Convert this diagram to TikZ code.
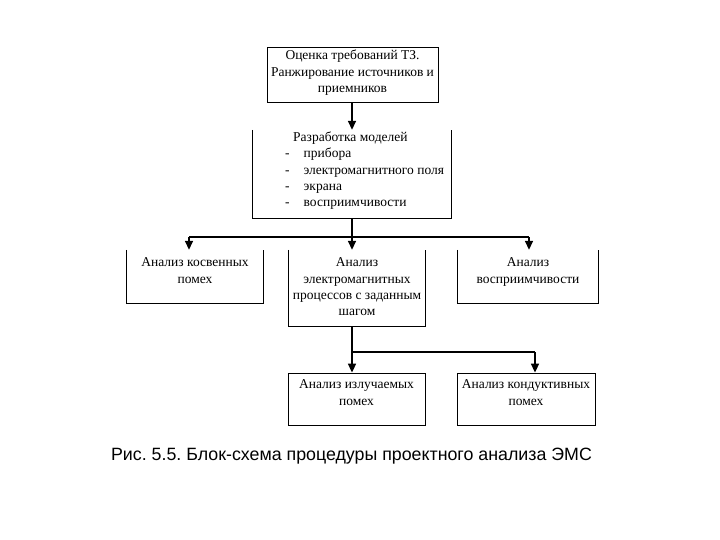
\documentclass[tikz,border=0pt]{standalone}
\usepackage{fontspec}
\setmainfont{Liberation Serif}
\newfontfamily\capfont{Liberation Sans}
\usetikzlibrary{arrows.meta,calc}
\frenchspacing
\tikzset{
  box/.style={draw, line width=0.8pt, inner sep=0pt},
  openbox/.style={inner sep=0pt},
  txt/.style={inner sep=0pt, align=center, font=\fontsize{13.5}{16.3}\selectfont},
  bus/.style={line width=1.6pt},
  arr/.style={line width=1.6pt, -{Triangle[length=9pt,width=8pt]}},
}
\begin{document}
\begin{tikzpicture}[x=1pt,y=-1pt]
\useasboundingbox (0,0) rectangle (720,540);
% boxes
\node[box, minimum width=171pt, minimum height=55pt] (t) at (352.5,74.5) {};
\node[openbox, minimum width=198pt, minimum height=88pt] (m) at (352,174) {};
\node[openbox, minimum width=136pt, minimum height=53pt] (a) at (195,276.5) {};
\node[openbox, minimum width=136pt, minimum height=76pt] (b) at (357,288) {};
\node[openbox, minimum width=140pt, minimum height=53pt] (c) at (528,276.5) {};
\node[box, minimum width=137pt, minimum height=52pt] (d) at (356.5,399) {};
\node[box, minimum width=138pt, minimum height=52pt] (e) at (526,399) {};
\foreach \n in {m,a,b,c}
  \draw[line width=0.8pt] (\n.north west) -- (\n.south west) -- (\n.south east) -- (\n.north east);
% texts
\node[txt, anchor=north] (tt) at ($(t.north)+(0,3.5)$) {Оценка требований ТЗ.\\Ранжирование источников и\\приемников};
\node[txt, anchor=north west, align=left] (mt) at (285,130) {%
  \begin{tabular}{@{}l@{\hspace{14pt}}l@{}}
  \multicolumn{2}{@{}l@{}}{\hspace{8pt}Разработка моделей}\\
  - & прибора\\
  - & электромагнитного поля\\
  - & экрана\\
  - & восприимчивости
  \end{tabular}};
\node[txt, anchor=north] (at) at ($(a.north)+(0,8)$) {Анализ косвенных\\помех};
\node[txt, anchor=north] (bt) at ($(b.north)+(0,8)$) {Анализ\\электромагнитных\\процессов с заданным\\шагом};
\node[txt, anchor=north] (ct) at ($(c.north)+(0,8)$) {Анализ\\восприимчивости};
\node[txt, anchor=north] (dt) at ($(d.north)+(0,7)$) {Анализ излучаемых\\помех};
\node[txt, anchor=north] (et) at ($(e.north)+(0,7)$) {Анализ кондуктивных\\помех};
% connectors
\draw[arr] (t.south -| m.south) -- (m.north);
\coordinate (j1) at (352,237);
\coordinate (ja) at (189,237);
\coordinate (jc) at (529,237);
\draw[bus] (m.south) -- (j1);
\draw[bus] (ja) -- (jc);
\draw[arr] (ja) -- (ja |- a.north);
\draw[arr] (j1) -- (j1 |- b.north);
\draw[arr] (jc) -- (jc |- c.north);
\coordinate (j2) at (352,352);
\coordinate (je) at (535,352);
\draw[arr] (j1 |- b.south) -- (j1 |- d.north);
\draw[bus] (j2) -- (je);
\draw[arr] (je) -- (je |- e.north);
% caption
\node[inner sep=0pt, anchor=base, font=\capfont\fontsize{17.8}{21}\selectfont] (cap) at (351.5,460) {Рис. 5.5. Блок-схема процедуры проектного анализа ЭМС};
\end{tikzpicture}
\end{document}
